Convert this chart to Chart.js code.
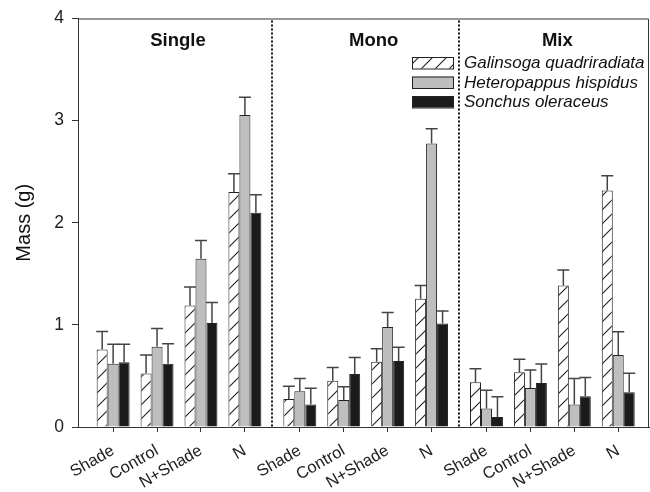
<!DOCTYPE html>
<html><head><meta charset="utf-8">
<script src="https://cdn.jsdelivr.net/npm/chart.js@4/dist/chart.umd.min.js"></script>
<style>html,body{margin:0;padding:0;background:#fff;}canvas{display:block;}</style>
</head><body>
<canvas id="c" width="650" height="492"></canvas>
<script>
// ---- data ----
const groups = ['Single', 'Mono', 'Mix'];
const treatments = ['Shade', 'Control', 'N+Shade', 'N'];
const seriesNames = ['Galinsoga quadriradiata', 'Heteropappus hispidus', 'Sonchus oleraceus'];
const galinsoga    = [0.76, 0.525, 1.19, 2.30,  0.275, 0.453, 0.64, 1.255,  0.437, 0.537, 1.385, 2.317];
const galinsogaSE  = [0.175, 0.18, 0.18, 0.18,  0.125, 0.13, 0.125, 0.13,   0.133, 0.126, 0.152, 0.143];
const heteropappus   = [0.62, 0.785, 1.647, 3.055,  0.35, 0.265, 0.98, 2.777,  0.18, 0.382, 0.22, 0.705];
const heteropappusSE = [0.19, 0.18, 0.18, 0.175,    0.126, 0.13, 0.14, 0.143,  0.18, 0.175, 0.256, 0.227];
const sonchus   = [0.634, 0.62, 1.019, 2.097,  0.22, 0.518, 0.647, 1.013,  0.097, 0.43, 0.30, 0.34];
const sonchusSE = [0.176, 0.195, 0.2, 0.178,   0.16, 0.162, 0.133, 0.123,  0.198, 0.188, 0.185, 0.187];
const yTicks = [0, 1, 2, 3, 4];

// ---- layout helpers ----
const GROUP_GAP = 0.25;
const perGroup = treatments.length;
const xLabels = groups.flatMap(() => treatments);
const pos = i => Math.floor(i / perGroup) * (perGroup + GROUP_GAP) + (i % perGroup);
const positions = xLabels.map((_, i) => pos(i));
const FONT = "'Liberation Sans', Arial, sans-serif";

const ctx = document.getElementById('c').getContext('2d');

function hatchPattern() {
  const s = 14;
  const c = document.createElement('canvas');
  c.width = s; c.height = s;
  const x = c.getContext('2d');
  x.fillStyle = '#fff'; x.fillRect(0, 0, s, s);
  x.strokeStyle = '#222'; x.lineWidth = 1.1;
  x.beginPath();
  x.moveTo(-1, s + 1); x.lineTo(s + 1, -1);
  x.moveTo(-2, 2); x.lineTo(2, -2);
  x.moveTo(s - 2, s + 2); x.lineTo(s + 2, s - 2);
  x.stroke();
  return ctx.createPattern(c, 'repeat');
}

const fills = [hatchPattern(), '#bebebe', '#1b1b1b'];
const valueSets = [galinsoga, heteropappus, sonchus];
const seSets = [galinsogaSE, heteropappusSE, sonchusSE];

const datasets = seriesNames.map((name, d) => ({
  label: name,
  data: valueSets[d].map((v, i) => ({ x: positions[i], y: v })),
  errors: seSets[d],
  backgroundColor: fills[d],
  borderColor: '#222',
  borderWidth: 1,
  barPercentage: 1,
  categoryPercentage: 0.75
}));

const errorBars = {
  id: 'errorBars',
  afterDatasetsDraw(chart) {
    const c = chart.ctx, ys = chart.scales.y;
    c.save();
    c.strokeStyle = '#444'; c.lineWidth = 1.5;
    chart.data.datasets.forEach((ds, di) => {
      const meta = chart.getDatasetMeta(di);
      meta.data.forEach((bar, i) => {
        const top = ys.getPixelForValue(ds.data[i].y + ds.errors[i]);
        const hw = bar.width / 2 + 0.5;
        c.beginPath();
        c.moveTo(bar.x, bar.y); c.lineTo(bar.x, top);
        c.moveTo(bar.x - hw, top); c.lineTo(bar.x + hw, top);
        c.stroke();
      });
    });
    c.restore();
  }
};

const decorations = {
  id: 'decorations',
  beforeDatasetsDraw(chart) {
    const c = chart.ctx, a = chart.chartArea, xs = chart.scales.x;
    c.save();
    // box top & right
    c.strokeStyle = '#333'; c.lineWidth = 1;
    c.beginPath();
    c.moveTo(a.left, a.top + 0.5); c.lineTo(a.right - 0.5, a.top + 0.5); c.lineTo(a.right - 0.5, a.bottom);
    c.stroke();
    // dotted separators
    c.strokeStyle = '#111'; c.lineWidth = 2; c.setLineDash([2, 2]);
    for (let g = 0; g < groups.length - 1; g++) {
      const v = (pos((g + 1) * perGroup - 1) + pos((g + 1) * perGroup)) / 2;
      const px = Math.round(xs.getPixelForValue(v));
      c.beginPath(); c.moveTo(px, a.top + 2); c.lineTo(px, a.bottom); c.stroke();
    }
    c.restore();
  },
  afterDraw(chart) {
    const c = chart.ctx, a = chart.chartArea, xs = chart.scales.x;
    c.save();
    // group labels
    const nudge = [-1, 8, 5];
    c.fillStyle = '#111';
    c.font = 'bold 18.5px ' + FONT;
    c.textAlign = 'center'; c.textBaseline = 'alphabetic';
    groups.forEach((g, gi) => {
      const v = pos(gi * perGroup) + (perGroup - 1) / 2;
      c.fillText(g, xs.getPixelForValue(v) + nudge[gi], 46);
    });
    // legend
    const lx = a.right - 237, ly = 57, rowH = 19.5, bw = 41, bh = 11.5;
    c.font = 'italic 17px ' + FONT;
    c.textAlign = 'left'; c.textBaseline = 'middle';
    chart.data.datasets.forEach((ds, i) => {
      const y = ly + i * rowH;
      c.fillStyle = ds.backgroundColor;
      c.fillRect(lx, y, bw, bh);
      c.strokeStyle = '#222'; c.lineWidth = 1;
      c.strokeRect(lx + 0.5, y + 0.5, bw, bh);
      c.fillStyle = '#111';
      c.fillText(ds.label, lx + bw + 11, y + bh / 2 + 1);
    });
    c.restore();
  }
};

new Chart(ctx, {
  type: 'bar',
  data: { datasets },
  options: {
    responsive: false,
    animation: false,
    devicePixelRatio: 1,
    layout: { padding: { top: 15, right: 1, left: 0, bottom: 0 } },
    plugins: { legend: { display: false }, tooltip: { enabled: false } },
    scales: {
      x: {
        type: 'linear',
        offset: false,
        min: -0.8,
        max: pos(xLabels.length - 1) + 0.7,
        afterBuildTicks: s => { s.ticks = positions.map(v => ({ value: v })); },
        afterFit: s => { s.height = 65; },
        ticks: {
          autoSkip: false,
          maxRotation: 30, minRotation: 30,
          padding: 9,
          labelOffset: 0,
          color: '#222',
          font: { family: FONT, size: 16.5 },
          callback: (val, idx) => xLabels[idx]
        },
        grid: { display: true, drawOnChartArea: false, drawTicks: true, tickLength: 5, color: '#333', offset: false },
        border: { display: true, color: '#333', width: 1 }
      },
      y: {
        min: 0, max: 4,
        afterBuildTicks: s => { s.ticks = yTicks.map(v => ({ value: v })); },
        afterFit: s => { s.width = 78; },
        ticks: { padding: 8, color: '#222', font: { family: FONT, size: 17.5 } },
        grid: { display: true, drawOnChartArea: false, drawTicks: true, tickLength: 6, color: '#333' },
        border: { display: true, color: '#333', width: 1 },
        title: { display: true, text: 'Mass (g)', color: '#111', font: { family: FONT, size: 20 }, padding: { top: 12, bottom: 0 } }
      }
    }
  },
  plugins: [errorBars, decorations]
});
</script>
</body></html>
